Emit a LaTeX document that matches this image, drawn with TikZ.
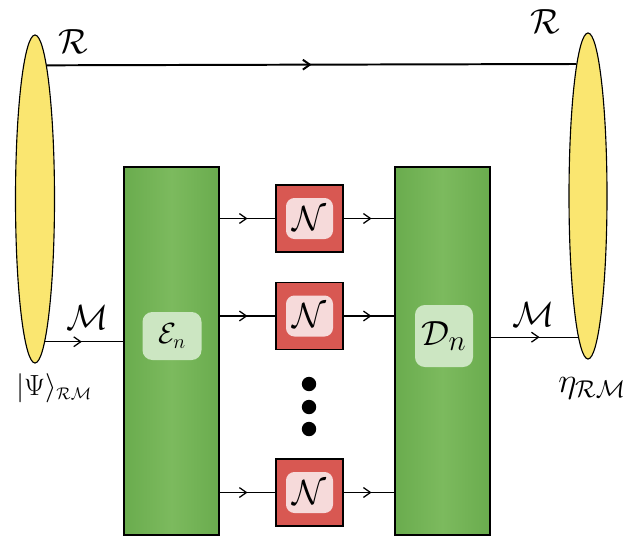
\documentclass[tikz,border=0pt]{standalone}
\usepackage{amsmath, amssymb}
\usetikzlibrary{positioning, shapes.geometric, arrows.meta, decorations.markings}
\definecolor{EllYellow}{RGB}{250, 230, 112}
\definecolor{BoxGreen}{RGB}{124, 186, 94}
\definecolor{BoxGreenDark}{RGB}{106, 172, 78}
\definecolor{PatchGreen}{RGB}{204, 230, 194}
\definecolor{BoxRed}{RGB}{216, 88, 82}
\definecolor{PatchRed}{RGB}{246, 218, 218}

\begin{document}
\begin{tikzpicture}[
    line width=0.9pt,
    lbl/.style={inner sep=1pt},
    ellipsebox/.style={draw, ellipse, fill=EllYellow, line width=0.8pt, inner sep=0pt},
    greenbox/.style={draw, rectangle, left color=BoxGreenDark, right color=BoxGreenDark, middle color=BoxGreen,
      minimum width=2.375cm, minimum height=9.2cm, line width=0.8pt},
    noisebox/.style={draw, rectangle, fill=BoxRed, minimum size=1.675cm, line width=0.8pt},
    greenpatch/.style={fill=PatchGreen, rounded corners=7pt, inner sep=0pt},
    redpatch/.style={fill=PatchRed, rounded corners=6pt, inner sep=0pt, minimum width=1.175cm, minimum height=1.025cm},
    dotnode/.style={circle, fill=black, inner sep=0pt, minimum size=0.36cm},
    midarrow/.style={postaction={decorate}, decoration={markings,
      mark=at position #1 with {\arrow{Straight Barb[length=5pt, width=7pt]}}}},
    midarrow/.default=0.5
  ]
    \useasboundingbox (0,0) rectangle (15.825,13.5);

    % States at both ends
    \node[ellipsebox, minimum width=0.975cm, minimum height=8.2cm] (psi) at (0.875,8.525) {};
    \node[ellipsebox, minimum width=0.95cm, minimum height=8.15cm] (eta) at (14.7,8.6) {};

    % Encoder and decoder
    \node[greenbox] (enc) at (4.2875,4.725) {};
    \node[greenbox] (dec) at (11.0625,4.725) {};
    \node[greenpatch, minimum width=1.475cm, minimum height=1.2cm] (enc-l) at (4.3,5.1) {\huge $\mathcal{E}_n$};
    \node[greenpatch, minimum width=1.45cm, minimum height=1.55cm] (dec-l) at (11.1,5.1) {\Huge $\mathcal{D}_n$};

    % Channel uses
    \foreach \name/\y in {n1/8.0375, n2/5.6, n3/1.1875} {
      \node[noisebox] (\name) at (7.7375,\y) {};
      \node[redpatch] (\name-l) at (\name) {\Huge $\mathcal{N}$};
      \draw[midarrow] (enc.east |- \name.west) -- (\name.west);
      \draw[midarrow=0.55] (\name.east) -- (dec.west |- \name.east);
    }
    \foreach \y [count=\i] in {3.9, 3.325, 2.775}
      \node[dotnode] (dot\i) at (7.725,\y) {};

    % Reference and message lines
    \draw[midarrow, line width=1.4pt] (psi.85) -- (eta.95);
    \draw[midarrow=0.47] (psi.-86) -- (psi.-86 -| enc.west);
    \draw[midarrow=0.56] (dec.east |- eta.266) -- (eta.266);

    % Labels
    \node[lbl] (r-in) at (1.825,12.45) {\Huge $\mathcal{R}$};
    \node[lbl] (r-out) at (13.625,12.95) {\Huge $\mathcal{R}$};
    \node[lbl] (m-in) at (2.2,5.55) {\Huge $\mathcal{M}$};
    \node[lbl] (m-out) at (13.325,5.625) {\Huge $\mathcal{M}$};
    \node[lbl, anchor=west] (psi-l) at (0.35,3.8) {\huge $\lvert\Psi\rangle_{\scriptscriptstyle\mathcal{RM}}$};
    \node[lbl] (eta-l) at (14.8,3.8) {\Huge $\eta_{\scriptscriptstyle\mathcal{RM}}$};
  \end{tikzpicture}
\end{document}
